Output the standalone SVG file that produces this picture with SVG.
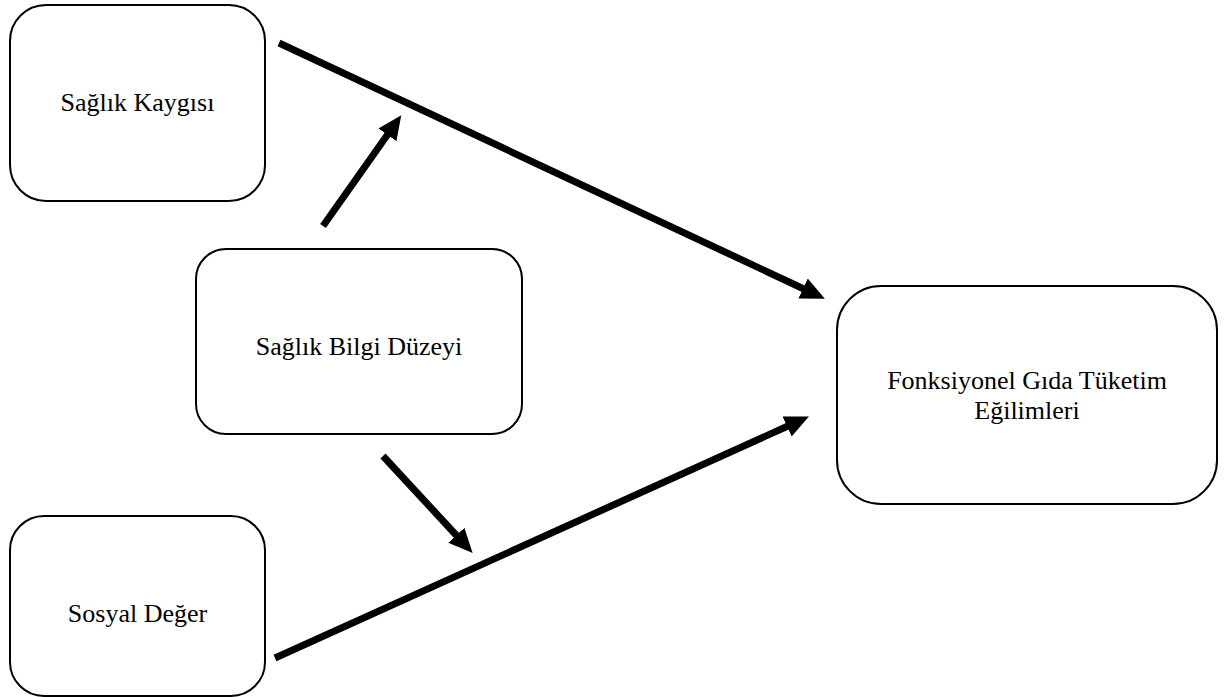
<svg xmlns="http://www.w3.org/2000/svg" width="1227" height="697" viewBox="0 0 1227 697">
  <style>
    .box { fill: #ffffff; stroke: #000000; stroke-width: 2; }
    .lbl { font-family: "Liberation Serif", "Times New Roman", serif; font-size: 26px; fill: #000000; text-anchor: middle; }
    .conn { stroke: #000000; stroke-width: 7; fill: none; marker-end: url(#head); }
  </style>
  <defs>
    <marker id="head" markerUnits="userSpaceOnUse" markerWidth="24" markerHeight="24" viewBox="0 0 24 24" refX="1" refY="12" orient="auto">
      <path d="M0,1 L24,12 L0,23 z" fill="#000000"/>
    </marker>
  </defs>
  <rect width="1227" height="697" fill="#ffffff"/>
  <g id="node-saglik-kaygisi">
    <rect class="box" x="10" y="5" width="255" height="196" rx="36" ry="36"/>
    <text class="lbl" x="137.5" y="111">Sağlık Kaygısı</text>
  </g>
  <g id="node-saglik-bilgi-duzeyi">
    <rect class="box" x="196" y="249" width="326" height="185" rx="30" ry="30"/>
    <text class="lbl" x="359" y="355">Sağlık Bilgi Düzeyi</text>
  </g>
  <g id="node-fonksiyonel">
    <rect class="box" x="837" y="286" width="380" height="218" rx="44" ry="44"/>
    <text class="lbl" x="1027" y="389">Fonksiyonel Gıda Tüketim</text>
    <text class="lbl" x="1027" y="419">Eğilimleri</text>
  </g>
  <g id="node-sosyal-deger">
    <rect class="box" x="10" y="516" width="255" height="180" rx="34" ry="34"/>
    <text class="lbl" x="137.5" y="622">Sosyal Değer</text>
  </g>
  <g id="connectors">
    <line class="conn" x1="279" y1="43" x2="804" y2="289"/>
    <line class="conn" x1="323" y1="226" x2="388" y2="134"/>
    <line class="conn" x1="383" y1="456" x2="457" y2="536"/>
    <line class="conn" x1="275" y1="658" x2="788" y2="426"/>
  </g>
</svg>
